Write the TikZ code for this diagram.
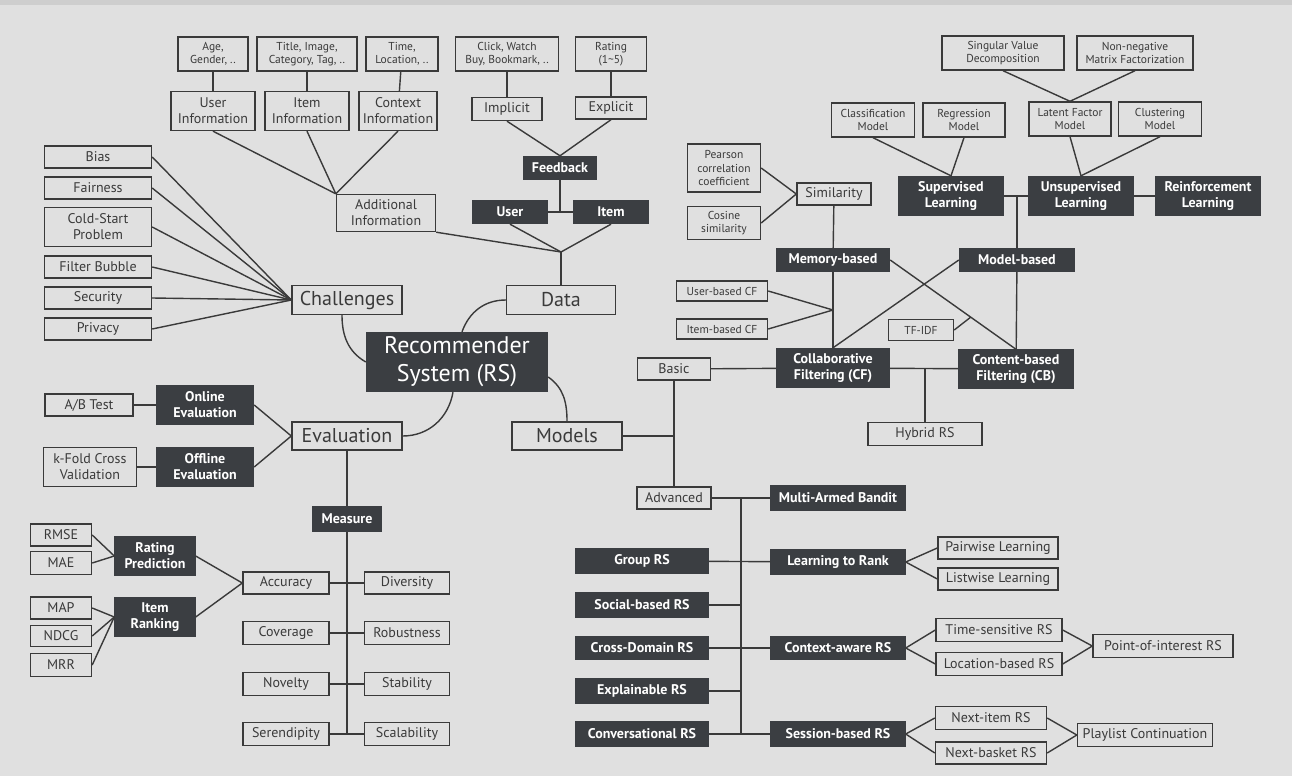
\documentclass[tikz,border=0pt]{standalone}
\usepackage{fontspec}
\setmainfont{PT Sans}
\usepackage{tikz}
\definecolor{bgcol}{RGB}{224,224,224}
\definecolor{topcol}{RGB}{206,206,206}
\definecolor{linecol}{RGB}{58,58,58}
\definecolor{darkbox}{RGB}{59,62,66}

\begin{document}
\begin{tikzpicture}[
    x=1pt, y=-1pt,
    sz/.style 2 args={minimum width=#1, minimum height=#2},
    lbox/.style={rectangle, draw=linecol, line width=1.4pt, fill=bgcol, inner sep=1pt, align=center, text=linecol, font=\fontsize{14}{16}\selectfont},
    tbox/.style={lbox, font=\fontsize{11.5}{13.5}\selectfont},
    bigbox/.style={lbox, font=\fontsize{20}{24}\selectfont},
    dbox/.style={rectangle, draw=darkbox, line width=1.4pt, fill=darkbox, inner sep=1pt, align=center, text=white, font=\bfseries\fontsize{14}{16}\selectfont},
    link/.style={draw=linecol, line width=1.4pt},
]
    \fill[bgcol] (0,0) rectangle (1292,776);
    \fill[topcol] (0,0) rectangle (1292,5);

    \node[tbox, sz={70}{34}] (agegen) at (213,54) {Age,\\Gender, ..};
    \node[tbox, sz={100}{34}] (titleimg) at (307,54) {Title, Image,\\Category, Tag, ..};
    \node[tbox, sz={72}{34}] (timeloc) at (402,54) {Time,\\Location, ..};
    \node[lbox, sz={84}{39}] (userinfo) at (213,111) {User\\Information};
    \node[lbox, sz={84}{39}] (iteminfo) at (307,111) {Item\\Information};
    \node[lbox, sz={78}{39}] (ctxinfo) at (398,111) {Context\\Information};
    \node[lbox, sz={99}{37}] (addinfo) at (386,213) {Additional\\Information};
    \node[tbox, sz={103}{34}] (clickw) at (507,54) {Click, Watch\\Buy, Bookmark, ..};
    \node[tbox, sz={71}{34}] (rating) at (611,54) {Rating\\(1\textasciitilde 5)};
    \node[lbox, sz={70}{23}] (implicit) at (507,109) {Implicit};
    \node[lbox, sz={71}{22}] (explicit) at (611,108) {Explicit};
    \node[dbox, sz={73}{23}] (feedback) at (560,168) {Feedback};
    \node[dbox, sz={74}{23}] (user) at (510,212) {User};
    \node[dbox, sz={74}{23}] (item) at (611,212) {Item};
    \node[bigbox, sz={109}{29}] (data) at (561,300) {Data};
    \coordinate (dataj) at (561,252);

    \node[dbox, sz={181}{59}, font=\fontsize{24}{28}\selectfont] (rs) at (457,362) {Recommender\\System (RS)};
    \node[bigbox, sz={110}{29}] (challenges) at (347,300) {Challenges};
    \node[bigbox, sz={110}{28}] (evaluation) at (347,436) {Evaluation};
    \node[bigbox, sz={110}{28}] (models) at (567,436) {Models};

    \node[lbox, sz={107}{22}] (bias) at (98,157) {Bias};
    \node[lbox, sz={107}{22}] (fairness) at (98,188) {Fairness};
    \node[lbox, sz={107}{39}] (coldstart) at (98,227) {Cold-Start\\Problem};
    \node[lbox, sz={107}{22}] (filterbub) at (98,267) {Filter Bubble};
    \node[lbox, sz={107}{22}] (security) at (98,298) {Security};
    \node[lbox, sz={107}{22}] (privacy) at (98,329) {Privacy};

    \node[lbox, sz={88}{22}] (abtest) at (89,405) {A/B Test};
    \node[dbox, sz={97}{38}] (online) at (205,405) {Online\\Evaluation};
    \node[lbox, sz={93}{39}] (kfold) at (90,467) {k-Fold Cross\\Validation};
    \node[dbox, sz={97}{39}] (offline) at (205,467) {Offline\\Evaluation};
    \node[dbox, sz={69}{25}] (measure) at (347,519) {Measure};
    \node[lbox, sz={86}{22}] (accuracy) at (286,583) {Accuracy};
    \node[lbox, sz={85}{22}] (diversity) at (407,583) {Diversity};
    \node[lbox, sz={86}{23}] (coverage) at (286,633) {Coverage};
    \node[lbox, sz={85}{23}] (robust) at (407,633) {Robustness};
    \node[lbox, sz={86}{23}] (novelty) at (286,684) {Novelty};
    \node[lbox, sz={85}{23}] (stability) at (407,684) {Stability};
    \node[lbox, sz={86}{23}] (serendip) at (286,734) {Serendipity};
    \node[lbox, sz={85}{23}] (scalab) at (407,734) {Scalability};
    \node[dbox, sz={80}{38}] (ratingpred) at (155,556) {Rating\\Prediction};
    \node[dbox, sz={80}{39}] (itemrank) at (155,617) {Item\\Ranking};
    \node[lbox, sz={61}{22}] (rmse) at (61,535) {RMSE};
    \node[lbox, sz={61}{23}] (mae) at (61,563) {MAE};
    \node[lbox, sz={61}{22}] (map) at (61,608) {MAP};
    \node[lbox, sz={61}{21}] (ndcg) at (61,636) {NDCG};
    \node[lbox, sz={61}{23}] (mrr) at (61,665) {MRR};

    \node[tbox, sz={122}{34}] (svd) at (1003,53) {Singular Value\\Decomposition};
    \node[tbox, sz={116}{34}] (nmf) at (1135,53) {Non-negative\\Matrix Factorization};
    \node[tbox, sz={83}{34}] (classif) at (873,120) {Classification\\Model};
    \node[tbox, sz={82}{34}] (regress) at (964,120) {Regression\\Model};
    \node[tbox, sz={82}{34}] (latent) at (1070,119) {Latent Factor\\Model};
    \node[tbox, sz={83}{34}] (cluster) at (1160,119) {Clustering\\Model};
    \node[dbox, sz={105}{39}] (superv) at (951,196) {Supervised\\Learning};
    \node[dbox, sz={105}{39}] (unsuperv) at (1081,196) {Unsupervised\\Learning};
    \node[dbox, sz={105}{39}] (reinf) at (1208,196) {Reinforcement\\Learning};
    \node[tbox, sz={73}{48}] (pearson) at (724,168) {Pearson\\correlation\\coefficient};
    \node[tbox, sz={73}{33}] (cosine) at (724,223) {Cosine\\similarity};
    \node[lbox, sz={74}{22}] (similarity) at (834,194) {Similarity};
    \node[dbox, sz={113}{23}] (memory) at (833,260) {Memory-based};
    \node[dbox, sz={115}{23}] (modelb) at (1017,260) {Model-based};
    \node[tbox, sz={91}{20}] (userbcf) at (722,291) {User-based CF};
    \node[tbox, sz={91}{20}] (itembcf) at (722,329) {Item-based CF};
    \coordinate (cfj) at (833,310);
    \node[tbox, sz={65}{21}] (tfidf) at (921,330) {TF-IDF};
    \node[dbox, sz={113}{39}] (cf) at (833,368) {Collaborative\\Filtering (CF)};
    \node[dbox, sz={115}{38}] (cb) at (1016,369) {Content-based\\Filtering (CB)};
    \node[lbox, sz={114}{23}] (hybrid) at (925,434) {Hybrid RS};
    \node[lbox, sz={73}{22}] (basic) at (674,369) {Basic};
    \node[lbox, sz={74}{22}] (advanced) at (674,498) {Advanced};

    \node[dbox, sz={134}{24}] (mab) at (838,498) {Multi-Armed Bandit};
    \node[dbox, sz={134}{24}] (ltr) at (838,562) {Learning to Rank};
    \node[dbox, sz={134}{23}] (ctxaware) at (838,648) {Context-aware RS};
    \node[dbox, sz={134}{24}] (session) at (838,734) {Session-based RS};
    \node[dbox, sz={133}{24}] (group) at (642,561) {Group RS};
    \node[dbox, sz={133}{24}] (social) at (642,605) {Social-based RS};
    \node[dbox, sz={133}{23}] (crossdom) at (642,648) {Cross-Domain RS};
    \node[dbox, sz={133}{24}] (explain) at (642,691) {Explainable RS};
    \node[dbox, sz={133}{24}] (conv) at (642,734) {Conversational RS};
    \coordinate (trunktop) at (741,498);
    \coordinate (trunkbot) at (741,734);
    \node[lbox, sz={120}{22}] (pairwise) at (998,548) {Pairwise Learning};
    \node[lbox, sz={120}{22}] (listwise) at (998,579) {Listwise Learning};
    \node[lbox, sz={126}{23}] (timesens) at (999,630) {Time-sensitive RS};
    \node[lbox, sz={126}{23}] (locbased) at (999,664) {Location-based RS};
    \node[lbox, sz={140}{23}] (poi) at (1163,646) {Point-of-interest RS};
    \node[lbox, sz={111}{23}] (nextitem) at (991,718) {Next-item RS};
    \node[lbox, sz={111}{22}] (nextbasket) at (991,753) {Next-basket RS};
    \node[lbox, sz={135}{23}] (playlist) at (1145,735) {Playlist Continuation};

    \draw[link] (agegen) -- (userinfo);
    \draw[link] (titleimg) -- (iteminfo);
    \draw[link] (timeloc) -- (ctxinfo);
    \draw[link] (userinfo.south) -- (addinfo.north west);
    \draw[link] (iteminfo.south) -- (addinfo.north west);
    \draw[link] (ctxinfo.south) -- (addinfo.north west);
    \draw[link] (clickw) -- (implicit);
    \draw[link] (rating) -- (explicit);
    \draw[link] (implicit.south) -- (feedback.north);
    \draw[link] (explicit.south) -- (feedback.north);
    \draw[link] (user.east) -- (item.west);
    \draw[link] (feedback.south) -- (feedback.south |- user.east);
    \draw[link] (user.south) -- (dataj);
    \draw[link] (item.south) -- (dataj);
    \draw[link] (addinfo.south east) -- (dataj);
    \draw[link] (dataj) -- (data.north);

    \draw[link] (bias.east) -- (challenges.west);
    \draw[link] (fairness.east) -- (challenges.west);
    \draw[link] (coldstart.east) -- (challenges.west);
    \draw[link] (filterbub.east) -- (challenges.west);
    \draw[link] (security.east) -- (challenges.west);
    \draw[link] (privacy.east) -- (challenges.west);

    \draw[link] ([xshift=-5pt]challenges.south) to[out=-90, in=150] (rs.west);
    \draw[link] (data.west) to[out=180, in=70] ([xshift=5pt]rs.north);
    \draw[link] ([yshift=-15pt]rs.east) to[out=-35, in=90] (models.north);
    \draw[link] ([xshift=-4pt]rs.south) to[out=-100, in=0] (evaluation.east);

    \draw[link] (abtest) -- (online);
    \draw[link] (kfold) -- (offline);
    \draw[link] (online.east) -- (evaluation.west);
    \draw[link] (offline.east) -- (evaluation.west);
    \draw[link] (evaluation) -- (measure);
    \draw[link] (measure.south) -- (measure.south |- serendip.east);
    \draw[link] (accuracy) -- (diversity);
    \draw[link] (coverage) -- (robust);
    \draw[link] (novelty) -- (stability);
    \draw[link] (serendip) -- (scalab);
    \draw[link] (rmse.east) -- (ratingpred.west);
    \draw[link] (mae.east) -- (ratingpred.west);
    \draw[link] (map.east) -- (itemrank.west);
    \draw[link] (ndcg.east) -- (itemrank.west);
    \draw[link] (mrr.east) -- (itemrank.west);
    \draw[link] (ratingpred.east) -- (accuracy.west);
    \draw[link] (itemrank.east) -- (accuracy.west);

    \draw[link] (svd.south) -- (latent.north);
    \draw[link] (nmf.south) -- (latent.north);
    \draw[link] (classif.south) -- (superv.north);
    \draw[link] (regress.south) -- (superv.north);
    \draw[link] (latent.south) -- (unsuperv.north);
    \draw[link] (cluster.south) -- (unsuperv.north);
    \draw[link] (superv) -- (unsuperv);
    \draw[link] (unsuperv) -- (reinf);
    \draw[link] (modelb.north) -- (modelb.north |- superv.east);
    \draw[link] (pearson.east) -- (similarity.west);
    \draw[link] (cosine.east) -- (similarity.west);
    \draw[link] (similarity) -- (memory);
    \draw[link] (memory) -- (cf);
    \draw[link] (userbcf.east) -- (cfj);
    \draw[link] (itembcf.east) -- (cfj);
    \draw[link] (memory.east) -- coordinate[pos=0.64] (tfj) (cb.north);
    \draw[link] (tfidf.east) -- (tfj);
    \draw[link] (modelb.west) -- (cf.north);
    \draw[link] (modelb) -- (cb);
    \draw[link] (cf) -- (cb);
    \draw[link] (hybrid.north) -- (hybrid.north |- cf.east);
    \draw[link] (basic) -- (cf);
    \draw[link] (models.east) -- (models.east -| basic.south);
    \draw[link] (basic) -- (advanced);

    \draw[link] (advanced) -- (mab);
    \draw[link] (trunktop) -- (trunkbot);
    \draw[link] (group) -- (ltr);
    \draw[link] (social.east) -- (social.east -| trunktop);
    \draw[link] (crossdom) -- (ctxaware);
    \draw[link] (explain.east) -- (explain.east -| trunktop);
    \draw[link] (conv) -- (session);
    \draw[link] (ltr.east) -- (pairwise.west);
    \draw[link] (ltr.east) -- (listwise.west);
    \draw[link] (ctxaware.east) -- (timesens.west);
    \draw[link] (ctxaware.east) -- (locbased.west);
    \draw[link] (timesens.east) -- (poi.west);
    \draw[link] (locbased.east) -- (poi.west);
    \draw[link] (session.east) -- (nextitem.west);
    \draw[link] (session.east) -- (nextbasket.west);
    \draw[link] (nextitem.east) -- (playlist.west);
    \draw[link] (nextbasket.east) -- (playlist.west);
\end{tikzpicture}
\end{document}
